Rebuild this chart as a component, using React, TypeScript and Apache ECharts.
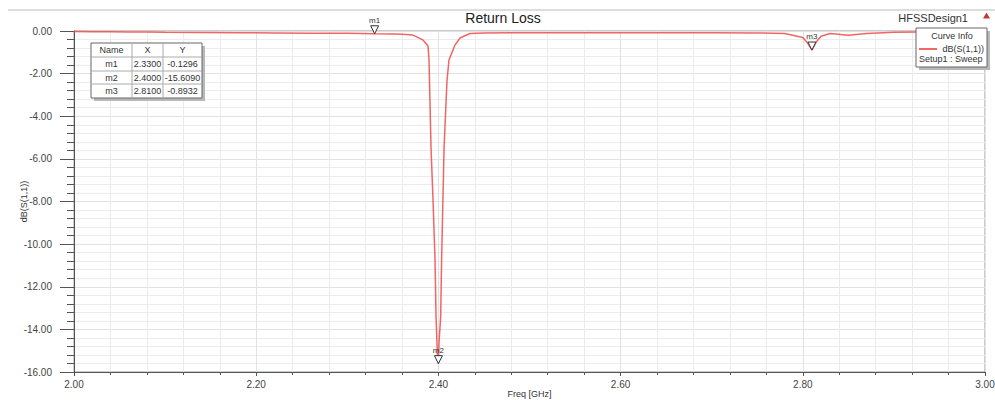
import React, { useEffect, useRef } from "react";
import * as echarts from "echarts";

// Sweep samples: frequency (GHz) and dB(S(1,1))
const freq = [
  2.0, 2.02, 2.04, 2.06, 2.08, 2.1, 2.14, 2.18, 2.22, 2.26, 2.3, 2.33, 2.35, 2.36,
  2.372, 2.383, 2.3886, 2.3897, 2.3919, 2.3941, 2.3963, 2.3974, 2.399, 2.4,
  2.4007, 2.4025, 2.4035, 2.4062, 2.4094, 2.4116, 2.4182, 2.4237, 2.4347, 2.45,
  2.5, 2.55, 2.6, 2.65, 2.7, 2.75, 2.78, 2.8, 2.805, 2.81, 2.815, 2.82, 2.83,
  2.85, 2.87, 2.9, 2.95, 3.0,
];
const s11 = [
  -0.02, -0.03, -0.04, -0.05, -0.05, -0.06, -0.07, -0.08, -0.09, -0.1, -0.11, -0.1296, -0.14, -0.15,
  -0.19, -0.42, -0.7, -1.36, -5.49, -7.93, -10.75, -13.42, -15.3, -15.609,
  -14.6, -13.4, -10.8, -5.5, -2.35, -1.36, -0.66, -0.33, -0.12, -0.09,
  -0.08, -0.08, -0.08, -0.08, -0.08, -0.09, -0.12, -0.3, -0.55, -0.8932, -0.5, -0.25, -0.12,
  -0.2, -0.12, -0.06, -0.04, -0.03,
];

// Markers
const markerNames = ["m1", "m2", "m3"];
const markerX = [2.33, 2.4, 2.81];
const markerY = [-0.1296, -15.609, -0.8932];

// Axis ticks
const xMin = 2.0;
const xMax = 3.0;
const xStep = 0.2;
const yMin = -16;
const yMax = 0;
const yStep = 2;

const FONT = '"Liberation Sans", Arial, sans-serif';

export default function App() {
  const ref = useRef<HTMLDivElement>(null);

  useEffect(() => {
    if (!ref.current) return;
    const chart = echarts.init(ref.current, undefined, { renderer: "svg" });

    const data = freq.map((f, i) => [f, s11[i]]);

    // Marker table graphic
    const tx = 91;
    const ty = 43;
    const colX = [0, 41, 72, 111];
    const rowY = [0, 14, 28, 41, 55];
    const tableChildren: any[] = [
      { type: "rect", z: 100, shape: { x: 3, y: 3, width: 111, height: 55 }, style: { fill: "#b8b8b8" } },
      { type: "rect", z: 101, shape: { x: 0, y: 0, width: 111, height: 55 }, style: { fill: "#fff", stroke: "#666", lineWidth: 1 } },
    ];
    for (let i = 1; i < rowY.length - 1; i++) {
      tableChildren.push({ type: "line", z: 102, shape: { x1: 0, y1: rowY[i], x2: 111, y2: rowY[i] }, style: { stroke: "#aaa", lineWidth: 1 } });
    }
    for (let i = 1; i < colX.length - 1; i++) {
      tableChildren.push({ type: "line", z: 102, shape: { x1: colX[i], y1: 0, x2: colX[i], y2: 55 }, style: { stroke: "#aaa", lineWidth: 1 } });
    }
    const cellText = (text: string, col: number, row: number) => ({
      type: "text",
      z: 103,
      x: (colX[col] + colX[col + 1]) / 2,
      y: (rowY[row] + rowY[row + 1]) / 2,
      style: { text, fontSize: 9, fontFamily: FONT, fill: "#333", textAlign: "center", textVerticalAlign: "middle" },
    });
    tableChildren.push(cellText("Name", 0, 0), cellText("X", 1, 0), cellText("Y", 2, 0));
    markerNames.forEach((n, i) => {
      tableChildren.push(cellText(n, 0, i + 1));
      tableChildren.push(cellText(markerX[i].toFixed(4), 1, i + 1));
      tableChildren.push(cellText(markerY[i].toFixed(4), 2, i + 1));
    });

    const legendText = (text: string, x: number, y: number, align: string) => ({
      type: "text",
      z: 103,
      x,
      y,
      style: { text, fontSize: 9, fontFamily: FONT, fill: "#333", textAlign: align, textVerticalAlign: "middle" },
    });

    const option: any = {
      animation: false,
      backgroundColor: "#fff",
      grid: {
        left: 74,
        top: 31,
        right: 10,
        bottom: 28,
        show: true,
        borderColor: "#999",
        borderWidth: 1,
        containLabel: false,
        outerBoundsMode: "none",
      },
      xAxis: {
        type: "value",
        min: xMin,
        max: xMax,
        interval: xStep,
        name: "Freq [GHz]",
        nameLocation: "middle",
        nameGap: 17,
        nameMoveOverlap: false,
        nameTextStyle: { fontSize: 9, color: "#333", fontFamily: FONT, verticalAlign: "top" },
        axisLine: { show: true, onZero: false, lineStyle: { color: "#555", width: 1 } },
        axisTick: { show: true, length: 4, lineStyle: { color: "#555" } },
        minorTick: { show: true, splitNumber: 5, length: 3, lineStyle: { color: "#555" } },
        splitLine: { show: true, lineStyle: { color: "#e2e2e2", width: 1 } },
        minorSplitLine: { show: true, lineStyle: { color: "#ececec", width: 1 } },
        axisLabel: { formatter: (v: number) => v.toFixed(2), fontSize: 10, color: "#444", margin: 7, fontFamily: FONT },
      },
      yAxis: {
        type: "value",
        min: yMin,
        max: yMax,
        interval: yStep,
        name: "dB(S(1,1))",
        nameLocation: "middle",
        nameGap: 46,
        nameMoveOverlap: false,
        nameTextStyle: { fontSize: 9, color: "#333", fontFamily: FONT },
        axisLine: { show: true, lineStyle: { color: "#555", width: 1 } },
        axisTick: { show: true, length: 14, lineStyle: { color: "#555" } },
        minorTick: { show: true, splitNumber: 5, length: 7, lineStyle: { color: "#555" } },
        splitLine: { show: true, lineStyle: { color: "#e2e2e2", width: 1 } },
        minorSplitLine: { show: true, lineStyle: { color: "#ececec", width: 1 } },
        axisLabel: { formatter: (v: number) => v.toFixed(2), fontSize: 10, color: "#444", margin: 22, fontFamily: FONT },
      },
      series: [
        {
          type: "line",
          name: "dB(S(1,1))",
          data,
          showSymbol: false,
          smooth: false,
          lineStyle: { color: "#f04a4a", width: 1.5, opacity: 0.85 },
          markPoint: {
            symbol: "path://M0,0 L10,0 L5,9 Z",
            symbolSize: [8, 8],
            symbolOffset: [0, -4],
            itemStyle: { color: "#fff", borderColor: "#333", borderWidth: 1 },
            label: {
              show: true,
              position: "top",
              distance: 1,
              formatter: (p: any) => p.name,
              fontSize: 8,
              color: "#333",
              fontFamily: FONT,
            },
            data: markerNames.map((n, i) => ({ name: n, coord: [markerX[i], markerY[i]] })),
          },
        },
      ],
      graphic: [
        { type: "line", shape: { x1: 8, y1: 10, x2: 995, y2: 10 }, style: { stroke: "#bbb", lineWidth: 1 } },
        {
          type: "text",
          x: 503,
          y: 18,
          style: { text: "Return Loss", fontSize: 14, fontFamily: FONT, fill: "#222", textAlign: "center", textVerticalAlign: "middle" },
        },
        {
          type: "text",
          x: 968,
          y: 18,
          style: { text: "HFSSDesign1", fontSize: 11, fontFamily: FONT, fill: "#333", textAlign: "right", textVerticalAlign: "middle" },
        },
        {
          type: "polygon",
          shape: { points: [[986.5, 12.5], [983, 18.5], [990, 18.5]] },
          style: { fill: "#c0392b" },
        },
        {
          type: "group",
          x: 916,
          y: 28,
          children: [
            { type: "rect", z: 100, shape: { x: 3, y: 3, width: 71, height: 39 }, style: { fill: "#b8b8b8" } },
            { type: "rect", z: 101, shape: { x: 0, y: 0, width: 71, height: 39 }, style: { fill: "#fff", stroke: "#666", lineWidth: 1 } },
            legendText("Curve Info", 36, 8, "center"),
            { type: "line", z: 103, shape: { x1: 3, y1: 21, x2: 21, y2: 21 }, style: { stroke: "#ee3333", lineWidth: 1.5 } },
            legendText("dB(S(1,1))", 68, 21, "right"),
            legendText("Setup1 : Sweep", 3, 31, "left"),
          ],
        },
        { type: "group", x: tx, y: ty, children: tableChildren },
      ],
    };

    chart.setOption(option);
    return () => chart.dispose();
  }, []);

  return (
    <div
      ref={ref}
      style={{ position: "fixed", left: 0, top: 0, width: 995, height: 400, background: "#fff" }}
    />
  );
}
